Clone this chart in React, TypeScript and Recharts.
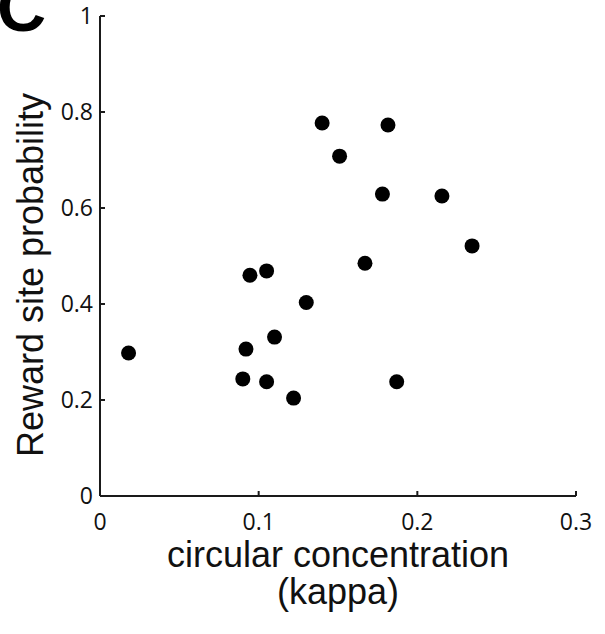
import { ScatterChart, Scatter, XAxis, YAxis } from 'recharts';

// circular concentration (kappa) per session
const kappa = [
  0.018, 0.0945, 0.105, 0.11, 0.092, 0.09, 0.105, 0.122, 0.13, 0.14, 0.1815,
  0.151, 0.178, 0.2155, 0.2345, 0.167, 0.187,
];
// reward site probability per session
const rewardProb = [
  0.298, 0.46, 0.469, 0.331, 0.306, 0.244, 0.238, 0.204, 0.403, 0.777, 0.773,
  0.708, 0.629, 0.625, 0.521, 0.485, 0.238,
];
const xTicks = [0, 0.1, 0.2, 0.3];
const yTicks = [0, 0.2, 0.4, 0.6, 0.8, 1];

const points = kappa.map((k, i) => ({ kappa: k, prob: rewardProb[i] }));

const tickFont = '"Open Sans", sans-serif';
const labelFont = '"Liberation Sans", Arial, sans-serif';
const axisColor = '#1a1a1a';

const YTick = ({ x, y, payload }: any) => (
  <g>
    <line x1={x} y1={y} x2={x + 5} y2={y} stroke={axisColor} strokeWidth={2} />
    <text x={x - 7} y={y} dy={8} textAnchor="end" fontFamily={tickFont} fontSize={23} fill="#111">
      {payload.value}
    </text>
  </g>
);

const XTick = ({ x, y, payload }: any) => (
  <g>
    <line x1={x} y1={y} x2={x} y2={y - 5} stroke={axisColor} strokeWidth={2} />
    <text x={x} y={y} dy={34} textAnchor="middle" fontFamily={tickFont} fontSize={23} fill="#111">
      {payload.value}
    </text>
  </g>
);

const YLabel = ({ viewBox }: any) => {
  const cx = viewBox.x + 43;
  const cy = viewBox.y + viewBox.height / 2 + 19;
  return (
    <text
      x={cx}
      y={cy}
      transform={`rotate(-90, ${cx}, ${cy})`}
      textAnchor="middle"
      fontFamily={labelFont}
      fontSize={36}
      fill="#111"
    >
      Reward site probability
    </text>
  );
};

const XLabel = ({ viewBox }: any) => {
  const cx = viewBox.x + viewBox.width / 2;
  return (
    <text textAnchor="middle" fontFamily={labelFont} fontSize={36} fill="#111">
      <tspan x={cx} y={viewBox.y + 567 - 496}>circular concentration</tspan>
      <tspan x={cx} y={viewBox.y + 604 - 496}>(kappa)</tspan>
    </text>
  );
};

const Dot = ({ cx, cy }: any) => <circle cx={cx} cy={cy} r={7.5} fill="#000" />;

export default function App() {
  return (
    <div style={{ position: 'absolute', left: 0, top: 0, width: 605, height: 634, background: '#fff' }}>
      <div
        style={{
          position: 'absolute',
          left: -3,
          top: -27,
          fontFamily: labelFont,
          fontWeight: 'bold',
          fontSize: 68,
          lineHeight: '68px',
          color: '#000',
        }}
      >
        C
      </div>
      <ScatterChart width={605} height={634} margin={{ top: 16, right: 29, left: 0, bottom: 0 }}>
        <XAxis
          type="number"
          dataKey="kappa"
          domain={[0, 0.3]}
          ticks={xTicks}
          height={138}
          tickSize={0}
          tickMargin={0}
          tickLine={false}
          tick={<XTick />}
          axisLine={{ stroke: axisColor, strokeWidth: 2 }}
          label={<XLabel />}
          allowDataOverflow
        />
        <YAxis
          type="number"
          dataKey="prob"
          domain={[0, 1]}
          ticks={yTicks}
          width={100}
          tickSize={0}
          tickMargin={0}
          tickLine={false}
          tick={<YTick />}
          axisLine={{ stroke: axisColor, strokeWidth: 2 }}
          label={<YLabel />}
          allowDataOverflow
        />
        <Scatter data={points} fill="#000" shape={<Dot />} isAnimationActive={false} />
      </ScatterChart>
    </div>
  );
}
